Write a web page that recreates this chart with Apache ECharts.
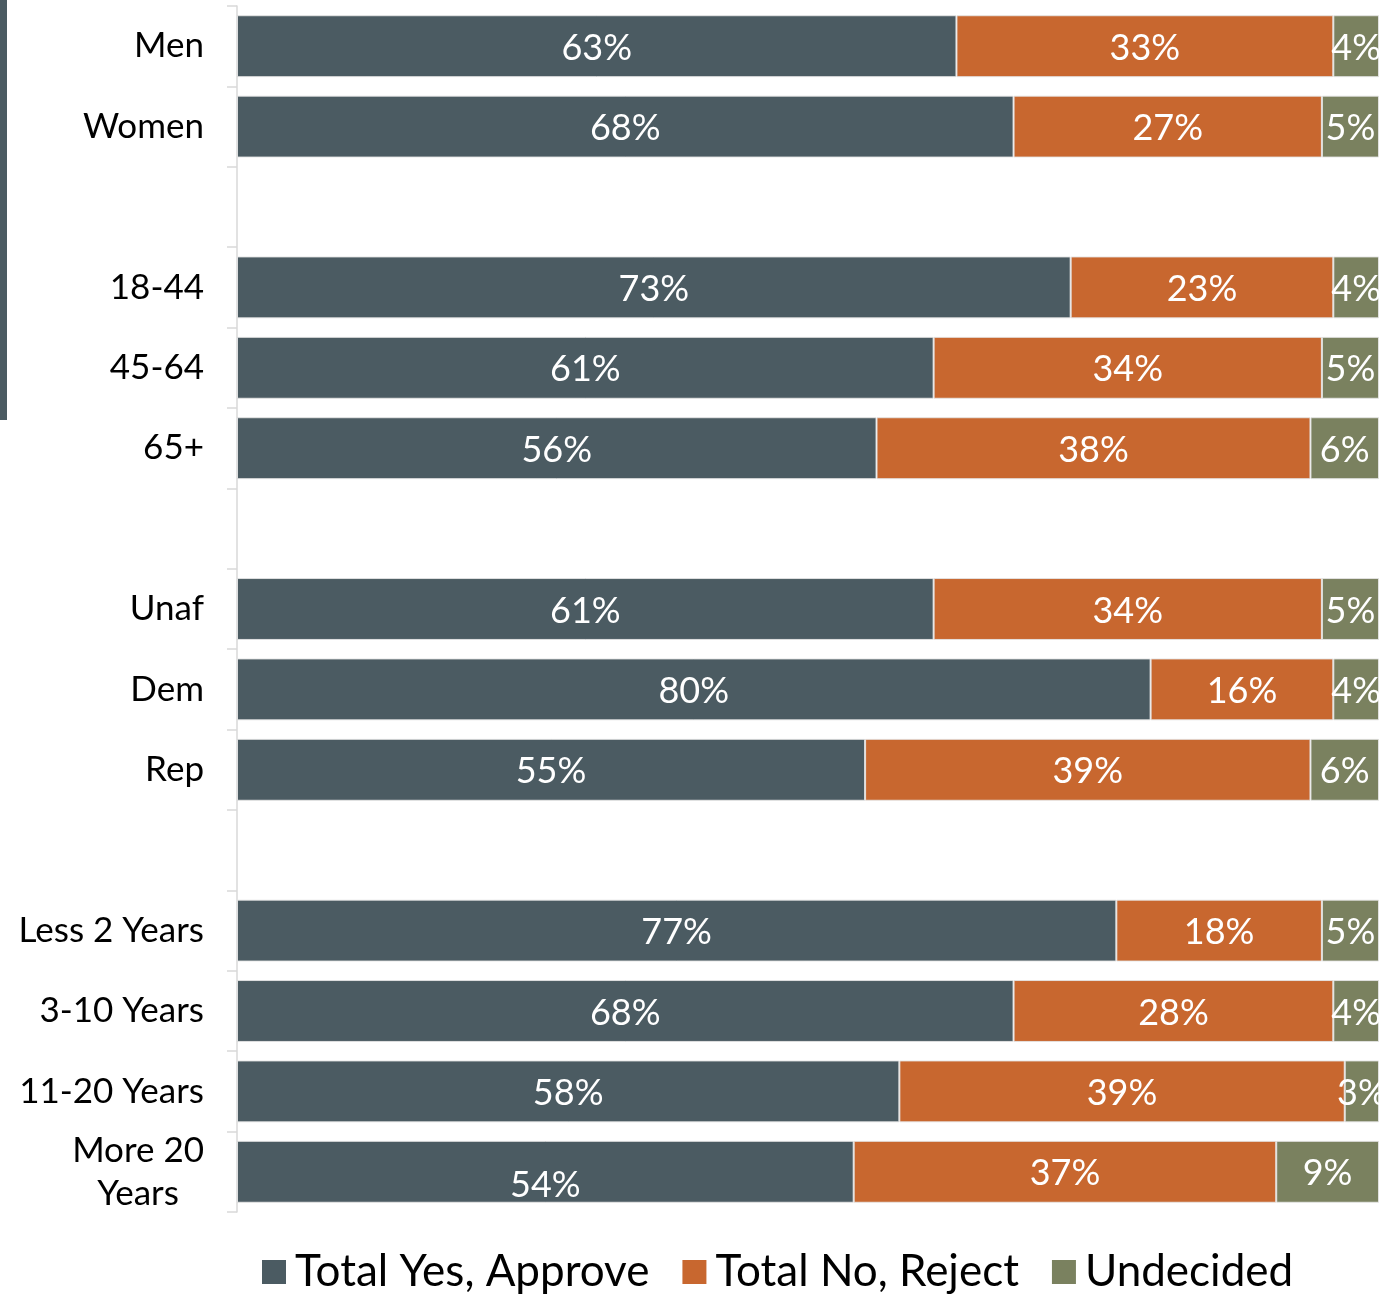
<!DOCTYPE html>
<html><head><meta charset="utf-8">
<script src="https://cdn.jsdelivr.net/npm/echarts@6/dist/echarts.min.js"></script>
<style>html,body{margin:0;padding:0;background:#fff}#c{width:1383px;height:1299px}</style>
</head><body><div id="c"></div>
<script>
var categories = ['Men','Women',' ','18-44','45-64','65+','  ','Unaf','Dem','Rep','   ','Less 2 Years','3-10 Years','11-20 Years','More 20\nYears'];
var yesApprove = [63,68,null,73,61,56,null,61,80,55,null,77,68,58,54];
var noReject   = [33,27,null,23,34,38,null,34,16,39,null,18,28,39,37];
var undecided  = [4,5,null,4,5,6,null,5,4,6,null,5,4,3,9];
var seriesNames = ['Total Yes, Approve','Total No, Reject','Undecided'];
var colors = ['#4B5B62','#C8672F','#7A815F'];
var FONT = 'Lato';

var chart = echarts.init(document.getElementById('c'));
function mk(name, vals, color, idx){
  return {
    name: name, type: 'bar', stack: 'a', barCategoryGap: '23%',
    itemStyle: {color: color, borderColor: 'rgba(230,230,230,0.9)', borderWidth: 1},
    label: {show: true, position: 'inside', color: '#fff', fontFamily: FONT, fontSize: 36, offset: [0, 2],
      formatter: function(p){ return p.value == null ? '' : p.value + '%'; }},
    data: vals.map(function(v, i){
      if (idx === 0 && i === vals.length - 1) return {value: v, label: {offset: [0, 14]}};
      return v;
    })
  };
}
chart.setOption({
  animation: false,
  textStyle: {fontFamily: FONT},
  grid: {left: 237, right: 4, top: 6, bottom: 87, containLabel: false},
  xAxis: {type: 'value', min: 0, max: 100, show: false},
  yAxis: {type: 'category', inverse: true, data: categories,
    axisLine: {show: true, lineStyle: {color: '#d9d9d9', width: 1.5}},
    axisTick: {show: true, length: 10, lineStyle: {color: '#d9d9d9', width: 1.5}},
    axisLabel: {margin: 33, color: '#000', fontFamily: FONT, fontSize: 35, lineHeight: 43,
      formatter: function(v){ var parts = v.split('\n'); return parts.map(function(s){return '{c|' + s + '}';}).join('\n'); },
      rich: {c: {align: 'center', fontFamily: FONT, fontSize: 35, lineHeight: 43, color: '#000'}}}
  },
  legend: {bottom: 0, left: 257, itemWidth: 24, itemHeight: 24, itemGap: 33,
    icon: 'rect', itemStyle: {borderWidth: 0},
    textStyle: {fontFamily: FONT, fontSize: 44, color: '#000', padding: [0,0,0,4]},
    data: seriesNames},
  graphic: [{type: 'rect', left: 0, top: 0, shape: {width: 7, height: 420}, style: {fill: '#4B5B62'}}],
  series: [mk(seriesNames[0], yesApprove, colors[0], 0), mk(seriesNames[1], noReject, colors[1], 1), mk(seriesNames[2], undecided, colors[2], 2)]
});
</script></body></html>
